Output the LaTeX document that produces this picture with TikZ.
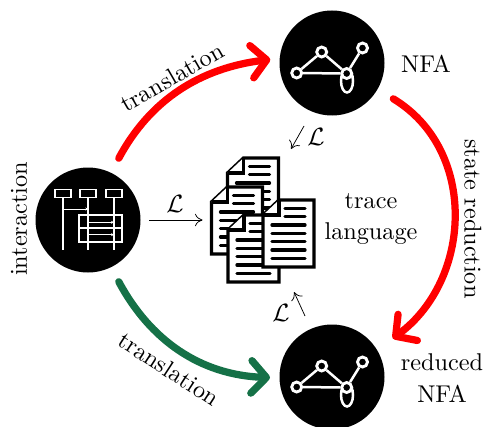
\documentclass[tikz,border=0pt]{standalone}
\usetikzlibrary{arrows.meta}
\definecolor{dgreen}{RGB}{21,113,71}
\tikzset{
  disc/.style={circle,fill=black,draw=none,minimum size=105*0.4pt,inner sep=0pt},
  state/.style={circle,draw=white,fill=black,line width=1.15pt,minimum size=10*0.4pt,inner sep=0pt},
  edgew/.style={white,line width=1pt},
  life/.style={white,line width=0.75pt},
  msg/.style={white,line width=0.4pt,-{Stealth[length=1.2pt,width=1.2pt]}},
  bigarrow/.style={line width=2.9pt,line cap=round,-{Straight Barb[round,length=6pt,width=13pt,line width=2.9pt]}},
  thinarrow/.style={line width=0.3pt,-{Computer Modern Rightarrow[length=3pt,width=5pt]}},
  page/.style={draw=black,fill=white,line width=1.3pt,line join=miter},
  txtl/.style={line width=1.3pt,line cap=round,black},
  lbl/.style={align=center,inner sep=0pt,font=\fontsize{9.7}{11.6}\selectfont}
}
\newcommand{\docpage}[2]{%
  \begin{scope}[shift={(#1,#2)}]
    \draw[page] (16,0) -- (51,0) -- (51,67) -- (0,67) -- (0,15) -- cycle;
    \draw[page] (16,0) -- (16,15) -- (0,15);
    \foreach \yy in {8.3,16.7} \draw[txtl] (22,\yy) -- (42,\yy);
    \foreach \yy in {25,33.3,41.7,50,58.3} \draw[txtl] (9,\yy) -- (42,\yy);
  \end{scope}}
\begin{document}
\begin{tikzpicture}[x=0.4pt,y=-0.4pt]
\useasboundingbox (0,0) rectangle (485,426);
% discs
\node[disc] (iact) at (88,220) {};
\node[disc] (nfa) at (332,63) {};
\node[disc] (rnfa) at (332,377) {};
% documents
\docpage{227.5}{158}
\docpage{211.5}{187}
\docpage{228}{215}
\docpage{263}{200}
\node[inner sep=0pt,minimum width=104*0.4pt,minimum height=124*0.4pt] (trace) at (262,220) {};
% interaction icon
\foreach \xx in {62.7,88.3,114} \draw[life] (\xx,198) -- (\xx,250);
\foreach \xx/\nn in {62.7/la,88.3/lb,114/lc}
  \node[draw=white,fill=black,line width=0.75pt,minimum width=16*0.4pt,minimum height=8*0.4pt,inner sep=0pt] (\nn) at (\xx,193.5) {};
\draw[life] (79.3,215) rectangle (122.3,241.7);
\draw[life] (79.3,228.3) -- (122.3,228.3);
\draw[msg] (62.7,209) -- (88.3,209);
\draw[msg] (88.3,222.3) -- (114,222.3);
\draw[msg] (88.3,234.7) -- (114,234.7);
% NFA icons
\foreach \cy/\pre in {0/a,314/b}{
  \begin{scope}[yshift=-\cy*0.4pt]
    \draw[edgew] (347,81) ellipse [x radius=6, y radius=11.5];
    \node[state] (\pre1) at (296.7,73) {};
    \node[state] (\pre2) at (321.7,52) {};
    \node[state] (\pre3) at (346.7,73.5) {};
    \node[state] (\pre4) at (362.5,48) {};
    \draw[edgew] (\pre1) -- (\pre2);
    \draw[edgew] (\pre2) -- (\pre3);
    \draw[edgew] (\pre1) -- (\pre3);
    \draw[edgew] (\pre3) -- (\pre4);
  \end{scope}}
% big arrows
\draw[bigarrow,red,shorten <=16*0.4pt,shorten >=9*0.4pt] (iact.64) .. controls (150,100) and (200,68) .. (nfa.175);
\draw[bigarrow,dgreen,shorten <=16*0.4pt,shorten >=9*0.4pt] (iact.-64) .. controls (150,340) and (200,375) .. (rnfa.181);
\draw[bigarrow,red,shorten <=18*0.4pt,shorten >=19*0.4pt] (nfa.-30) .. controls (478,150) and (472,280) .. (rnfa.31);
% thin arrows
\draw[thinarrow,shorten <=8*0.4pt,shorten >=7*0.4pt] (iact.east) -- (trace.west);
\coordinate (da) at (304,126);
\coordinate (db) at (291,149);
\coordinate (ua) at (305,316);
\coordinate (ub) at (294,292);
\draw[thinarrow] (da) -- (db);
\draw[thinarrow] (ua) -- (ub);
% labels
\node[lbl] at (175,204) {$\mathcal{L}$};
\node[lbl] at (316,137) {$\mathcal{L}$};
\node[lbl] at (281,313) {$\mathcal{L}$};
\node[lbl,rotate=30] at (172,77) {translation};
\node[lbl,rotate=-33] at (169,369) {translation};
\node[lbl,rotate=90] at (19,219) {interaction};
\node[lbl,rotate=-90] at (473,219) {state reduction};
\node[lbl] at (426,64) {NFA};
\node[lbl] at (371,219) {trace\\[1pt]language};
\node[lbl] at (442,378) {reduced\\[1pt]NFA};
\end{tikzpicture}
\end{document}
